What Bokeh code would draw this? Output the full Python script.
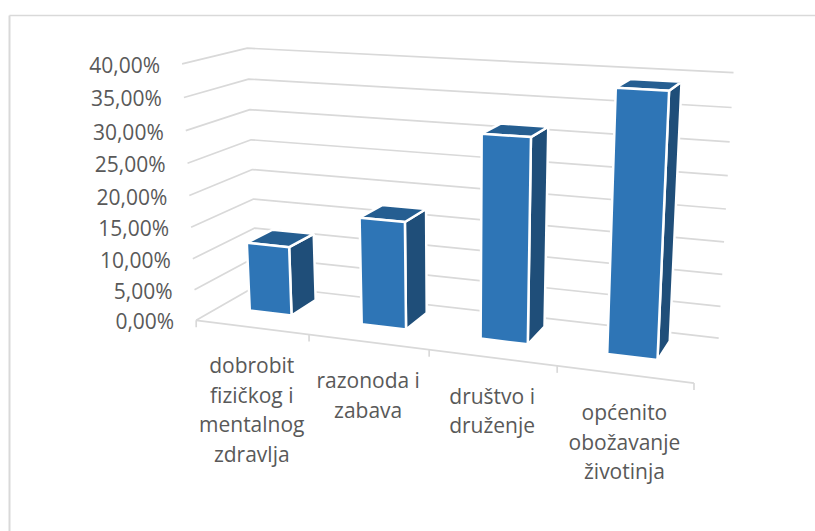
import numpy as np
from bokeh.plotting import figure
from bokeh.core.properties import value
from bokeh.embed import file_html
from bokeh.resources import INLINE

categories = ["dobrobit\nfizičkog i\nmentalnog\nzdravlja", "razonoda i\nzabava", "društvo i\ndruženje", "općenito\nobožavanje\nživotinja"]
values = [11.2, 17.0, 31.2, 38.9]
y_ticks = [0, 5, 10, 15, 20, 25, 30, 35, 40]
y_labels = ["0,00%", "5,00%", "10,00%", "15,00%", "20,00%", "25,00%", "30,00%", "35,00%", "40,00%"]

FONT = "Open Sans"
GRID = "#D9D9D9"
TEXT = "#595959"
FRONT, SIDE, TOP = "#2E75B6", "#1F4E79", "#255E91"

# Projection of the chart's 3D box (across, depth, percent) onto the page, fitted to the box's corners
calib = [
    ((0, 0, 0), (196, 319)), ((0, 0, 40), (181.7, 64)),
    ((0, 1, 0), (257, 286)), ((0, 1, 40), (246.7, 46.7)),
    ((1, 1, 0), (718, 336.7)), ((1, 1, 40), (733, 72.7)),
    ((1, 0, 0), (694, 383)), ((.25, 0, 0), (308, 334)),
    ((.5, 0, 0), (428, 349)), ((.75, 0, 0), (557, 365.5)),
]
rows = []
for (X, Y, Z), (u, v) in calib:
    w = [X, Y, Z / 40, 1]
    rows.append(w + [0, 0, 0, 0] + [-u * c for c in w])
    rows.append([0, 0, 0, 0] + w + [-v * c for c in w])
P = np.linalg.svd(np.array(rows, float))[2][-1].reshape(3, 4)

def proj(X, Y, Z):
    a = P @ np.array([X, Y, Z / 40, 1.0])
    return float(a[0] / a[2]), float(a[1] / a[2])

W, H = 815, 531
p = figure(width=W, height=H, x_range=(0, W), y_range=(H, 0), output_backend="svg",
           toolbar_location=None, min_border=0, outline_line_color=None)
p.axis.visible = False
p.grid.visible = False

# chart frame
p.line([9, 9], [531, 15], line_color=GRID, line_width=2)
p.line([9, 815], [15, 15], line_color=GRID, line_width=1.6)

# walls' gridlines
gx, gy = [], []
for t in y_ticks:
    pts = [proj(0, 0, t), proj(0, 1, t), proj(1, 1, t)]
    gx.append([a[0] for a in pts]); gy.append([a[1] for a in pts])
p.multi_line(gx, gy, line_color=GRID, line_width=1.7)

# floor front edge and ticks
a, b = proj(0, 0, 0), proj(1, 0, 0)
p.line([a[0], b[0]], [a[1], b[1]], line_color=GRID, line_width=1.7)
n = len(categories)
for i in range(n + 1):
    q = proj(i / n, 0, 0)
    p.line([q[0], q[0]], [q[1], q[1] + 7], line_color=GRID, line_width=1.7)

# bars
X0, X1, Y0, Y1 = .28, .66, .365, .80
fx, fy, sx, sy, tx, ty = [], [], [], [], [], []
for i, v in enumerate(values):
    l, r = (i + X0) / n, (i + X1) / n
    poly = lambda pts: ([q[0] for q in pts], [q[1] for q in pts])
    x, y = poly([proj(l, Y0, 0), proj(r, Y0, 0), proj(r, Y0, v), proj(l, Y0, v)]); fx.append(x); fy.append(y)
    x, y = poly([proj(r, Y0, 0), proj(r, Y1, 0), proj(r, Y1, v), proj(r, Y0, v)]); sx.append(x); sy.append(y)
    x, y = poly([proj(l, Y0, v), proj(r, Y0, v), proj(r, Y1, v), proj(l, Y1, v)]); tx.append(x); ty.append(y)
p.patches(sx, sy, fill_color=SIDE, line_color="white", line_width=2.5)
p.patches(tx, ty, fill_color=TOP, line_color="white", line_width=2.5)
p.patches(fx, fy, fill_color=FRONT, line_color="white", line_width=2.5)

# value labels
lx = [proj(0, 0, t)[0] - 22 for t in y_ticks]
ly = [proj(0, 0, t)[1] + 1 for t in y_ticks]
p.text(lx, ly, text=y_labels, text_font=value(FONT), text_font_size="21px", text_color=TEXT,
       text_align="right", text_baseline="middle")

# category labels
cx, cy, ct = [], [], []
for i, c in enumerate(categories):
    q = proj((i + .5) / n, 0, 0)
    for j, s in enumerate(c.split("\n")):
        cx.append(q[0]); cy.append(q[1] + 38 + j * 29.5); ct.append(s)
p.text(cx, cy, text=ct, text_font=value(FONT), text_font_size="21px", text_color=TEXT,
       text_align="center", text_baseline="middle")

open("out.html", "w").write(file_html(p, INLINE))
